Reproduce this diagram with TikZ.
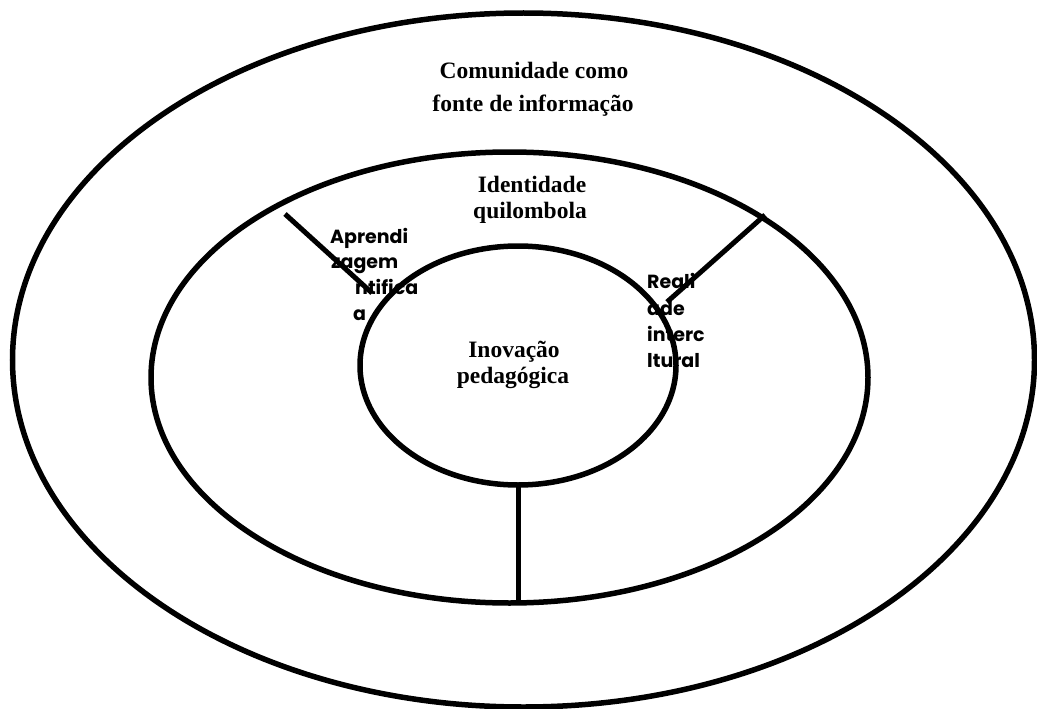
\documentclass[tikz,border=0pt]{standalone}
\usepackage{fontspec}
\setmainfont{Liberation Serif}
\newfontfamily\gothic{Poppins}
\usetikzlibrary{shapes.geometric}
\tikzset{
  ring/.style={ellipse, draw=black, line width=5.5pt, inner sep=0pt, outer sep=0pt},
  spoke/.style={draw=black, line width=5pt},
  serifl/.style={anchor=base, inner sep=0pt, font=\fontsize{23.5}{28}\selectfont\bfseries},
  sansl/.style={anchor=base west, inner sep=0pt, font=\gothic\fontsize{19}{22}\selectfont\bfseries}
}
\begin{document}
\begin{tikzpicture}[x=1pt,y=-1pt]
\useasboundingbox (0,0) rectangle (1037,709);
\node[ring, minimum width=1022pt, minimum height=694pt] (outer) at (523.5,360) {};
\node[ring, minimum width=717pt, minimum height=451pt] (middle) at (509.5,377.5) {};
\node[ring, minimum width=316pt, minimum height=239pt] (inner) at (518,365.5) {};
% spokes
\coordinate (l1) at (285,214);
\coordinate (l2) at (372,293);
\coordinate (r1) at (765,215);
\coordinate (r2) at (667,302);
\draw[spoke] (l1) -- (l2);
\draw[spoke] (r1) -- (r2);
\draw[spoke] (inner.south) -- (inner.south |- middle.south);
% serif labels
\node[serifl] (c1) at (534,79) {Comunidade como};
\node[serifl] (c2) at (533,111) {fonte de informação};
\node[serifl] (i1) at (532,192) {Identidade};
\node[serifl] (i2) at (530,218) {quilombola};
\node[serifl] (p1) at (514,357) {Inovação};
\node[serifl] (p2) at (513,383) {pedagógica};
% sans labels
\node[sansl] (a1) at (330,243) {Aprendi};
\node[sansl] (a2) at (331,268) {zagem};
\node[sansl] (a3) at (355,294) {ntifica};
\node[sansl] (a4) at (353,320) {a};
\node[sansl] (r1t) at (647,288) {Reali};
\node[sansl] (r2t) at (647,315) {ade};
\node[sansl] (r3t) at (647,341) {interc};
\node[sansl] (r4t) at (647,367) {ltural};
\end{tikzpicture}
\end{document}
